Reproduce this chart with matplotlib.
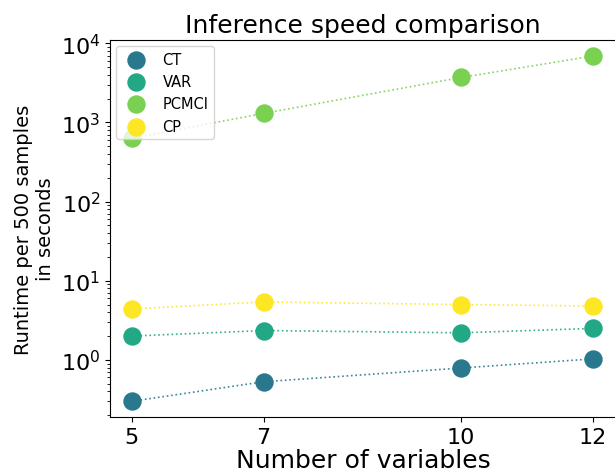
import numpy as np
import matplotlib
matplotlib.use("Agg")
import matplotlib.pyplot as plt

# number of variables
n_vars = [5, 7, 10, 12]

# runtime per 500 samples (seconds)
runtime_ct = [0.30, 0.53, 0.79, 1.03]
runtime_var = [2.0, 2.35, 2.2, 2.5]
runtime_pcmci = [630, 1300, 3700, 6900]
runtime_cp = [4.4, 5.4, 5.0, 4.8]

methods = ["CT", "VAR", "PCMCI", "CP"]
colors = ["#2a788e", "#22a884", "#7ad151", "#fde725"]
all_runtimes = [runtime_ct, runtime_var, runtime_pcmci, runtime_cp]

fig = plt.figure(figsize=(6.15, 4.77), dpi=100)
ax = fig.add_axes([110 / 615, 59 / 477, 506 / 615, 377 / 477])

for name, col, vals in zip(methods, colors, all_runtimes):
    ax.plot(n_vars, vals, linestyle=":", color=col, linewidth=1.2, alpha=0.9)
    ax.scatter(n_vars, vals, s=150, color=col, label=name, zorder=3)

ax.set_yscale("log")
ax.set_ylim(0.19, 1.1e4)
ax.set_xlim(4.67, 12.35)
ax.set_xticks(n_vars)
ax.tick_params(axis="both", labelsize=16)

ax.set_xlabel("Number of variables", fontsize=18, labelpad=1)
ax.set_ylabel("Runtime per 500 samples\nin seconds", fontsize=14)
ax.set_title("Inference speed comparison", fontsize=18)
ax.legend(loc="upper left", fontsize=10.5, borderaxespad=0.4)

plt.savefig("out.png", dpi=100)
